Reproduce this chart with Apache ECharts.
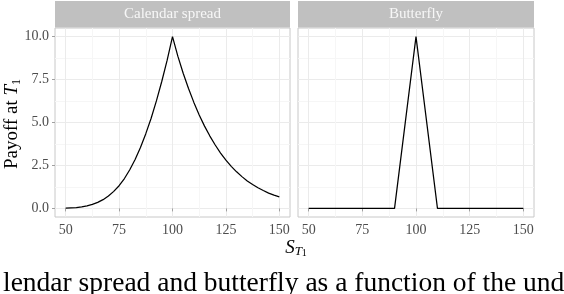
<!DOCTYPE html>
<html><head><meta charset="utf-8">
<script src="https://cdn.jsdelivr.net/npm/echarts@6/dist/echarts.min.js"></script>
<style>html,body{margin:0;padding:0;background:#fff}#c{width:564px;height:294px}</style>
</head><body><div id="c"></div>
<script>
// ---- data ----
const panelTitles = ['Calendar spread', 'Butterfly'];
const xTicks = [50, 75, 100, 125, 150];
const yTicks = [0, 2.5, 5, 7.5, 10];
const calendarS = [50, 52.5, 55, 57.5, 60, 62.5, 65, 67.5, 70, 72.5, 75, 77.5, 80, 82.5, 85, 87.5, 90, 92.5, 95, 97.5, 100,
  102.5, 105, 107.5, 110, 112.5, 115, 117.5, 120, 122.5, 125, 127.5, 130, 132.5, 135, 137.5, 140, 142.5, 145, 147.5, 150];
const calendarPayoff = [0.01, 0.03, 0.05, 0.09, 0.15, 0.23, 0.35, 0.51, 0.72, 0.99, 1.32, 1.74, 2.25, 2.85, 3.55, 4.35, 5.25, 6.27, 7.40, 8.63, 10.0,
  8.86, 7.87, 6.98, 6.17, 5.44, 4.79, 4.21, 3.69, 3.22, 2.81, 2.45, 2.13, 1.85, 1.60, 1.39, 1.20, 1.04, 0.89, 0.77, 0.67];
const butterflyS = [50, 90, 100, 110, 150];
const butterflyPayoff = [0, 0, 10, 0, 0];
const caption = 'lendar spread and butterfly as a function of the und';

// ---- chart ----
const FONT = '"Liberation Serif", "DejaVu Serif", serif';
const T = 'rgba(0,0,0,0)', MAJ = '#EBEBEB', MIN = '#F6F6F6';
const cycle = [T, T, MAJ, T, T, T, T, MIN, T, T];
const near = (v, arr) => arr.some(a => Math.abs(a - v) < 1e-6);

function lineX(gi) {
  return { type: 'value', gridIndex: gi, min: 45, max: 155, interval: 2.5,
    axisLine: { show: false }, axisTick: { show: false }, axisLabel: { show: false },
    splitLine: { show: true, showMinLine: true, showMaxLine: true, lineStyle: { color: cycle, width: 1 } } };
}
function lineY(gi) {
  return { type: 'value', gridIndex: gi, min: -0.5, max: 10.5, interval: 0.25,
    axisLine: { show: false }, axisTick: { show: false }, axisLabel: { show: false },
    splitLine: { show: true, showMinLine: true, showMaxLine: true, lineStyle: { color: cycle, width: 1 } } };
}
function mainX(gi) {
  return { type: 'value', gridIndex: gi, min: 45, max: 155, interval: 2.5, position: 'bottom',
    axisLine: { show: false },
    axisTick: { show: true, customValues: xTicks, length: 3, lineStyle: { color: '#A0A0A0', width: 1 } },
    axisLabel: { customValues: xTicks, margin: 6, color: '#4D4D4D', fontFamily: FONT, fontSize: 14,
      formatter: v => near(v, xTicks) ? String(Math.round(v)) : '' },
    splitLine: { show: false } };
}
function mainY(gi, showLab) {
  return { type: 'value', gridIndex: gi, min: -0.5, max: 10.5, interval: 0.25, position: 'left',
    axisLine: { show: false },
    axisTick: { show: showLab, customValues: yTicks, length: 3, lineStyle: { color: '#A0A0A0', width: 1 } },
    axisLabel: { show: showLab, customValues: yTicks, margin: 6, color: '#4D4D4D', fontFamily: FONT, fontSize: 14,
      formatter: v => near(v, yTicks) ? v.toFixed(1) : '' },
    splitLine: { show: false } };
}

const grids = [
  { left: 55, top: 28, width: 235, height: 189 },
  { left: 298, top: 28, width: 236, height: 189 }
].map(g => Object.assign(g, { show: true, borderColor: '#C8C8C8', borderWidth: 1, backgroundColor: '#fff',
  containLabel: false, outerBoundsMode: 'none' }));

const chart = echarts.init(document.getElementById('c'), null, { renderer: 'canvas' });
chart.setOption({
  animation: false,
  backgroundColor: '#fff',
  grid: grids,
  xAxis: [mainX(0), lineX(0), mainX(1), lineX(1)],
  yAxis: [mainY(0, true), lineY(0), mainY(1, false), lineY(1)],
  series: [
    { type: 'line', xAxisIndex: 0, yAxisIndex: 0, showSymbol: false, silent: true, z: 5,
      lineStyle: { color: '#000', width: 1.25 }, data: calendarS.map((s, i) => [s, calendarPayoff[i]]) },
    { type: 'line', xAxisIndex: 2, yAxisIndex: 2, showSymbol: false, silent: true, z: 5,
      lineStyle: { color: '#000', width: 1.25 }, data: butterflyS.map((s, i) => [s, butterflyPayoff[i]]) }
  ],
  graphic: [
    { type: 'rect', shape: { x: 55, y: 1, width: 235, height: 26.5 }, style: { fill: '#C0C0C0' } },
    { type: 'rect', shape: { x: 298, y: 1, width: 236, height: 26.5 }, style: { fill: '#C0C0C0' } },
    { type: 'text', x: 172.5, y: 14.5, style: { text: panelTitles[0], fill: '#F7F7F7', font: '15px ' + FONT, align: 'center', verticalAlign: 'middle' } },
    { type: 'text', x: 416, y: 14.5, style: { text: panelTitles[1], fill: '#F7F7F7', font: '15px ' + FONT, align: 'center', verticalAlign: 'middle' } },
    { type: 'text', x: 12, y: 124, rotation: Math.PI / 2,
      style: { text: 'Payoff at {it|T}{sub|1}', fill: '#000', font: '19px ' + FONT, align: 'center', verticalAlign: 'middle',
        rich: { it: { fontStyle: 'italic', fontSize: 19, fontFamily: FONT, lineHeight: 22 },
                sub: { fontSize: 12, fontFamily: FONT, verticalAlign: 'bottom', lineHeight: 22, padding: [6, 0, 0, 0] } } } },
    { type: 'text', x: 296, y: 248,
      style: { text: '{s|S}{t|T}{o|1}', fill: '#000', align: 'center', verticalAlign: 'middle',
        rich: { s: { fontStyle: 'italic', fontSize: 19, fontFamily: FONT, lineHeight: 22 },
                t: { fontStyle: 'italic', fontSize: 13, fontFamily: FONT, lineHeight: 22, padding: [7, 0, 0, 0] },
                o: { fontSize: 10, fontFamily: FONT, lineHeight: 22, padding: [11, 0, 0, 0] } } } },
    { type: 'text', x: 3, y: 284,
      style: { text: caption, fill: '#000', font: '27.5px ' + FONT, align: 'left', verticalAlign: 'middle' } }
  ]
});
</script>
</body></html>
